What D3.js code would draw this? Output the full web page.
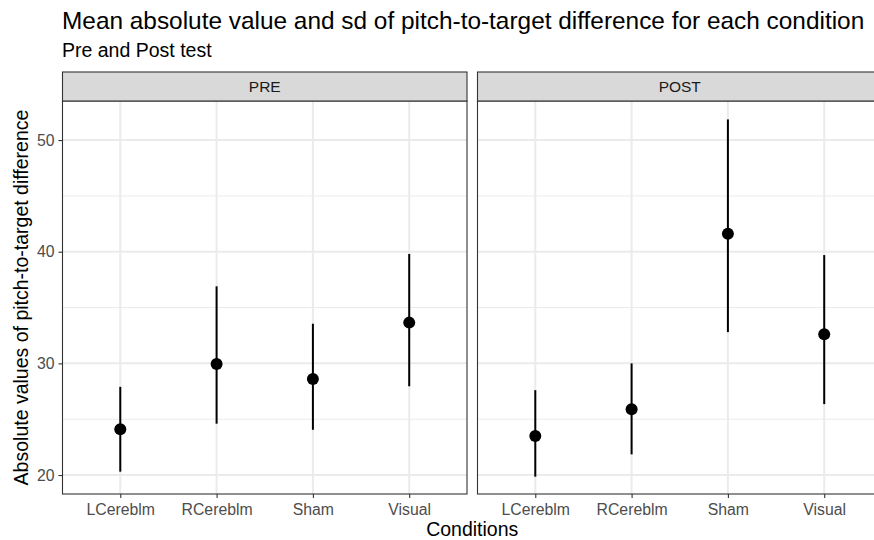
<!DOCTYPE html>
<html>
<head>
<meta charset="utf-8">
<script src="https://cdn.jsdelivr.net/npm/d3@7"></script>
<style>
  html, body { margin: 0; padding: 0; background: #ffffff; }
  svg { display: block; font-family: "Liberation Sans", Arial, Helvetica, sans-serif; }
</style>
</head>
<body>
<svg id="chart" width="874" height="540"></svg>
<script>
// Conditions on the x axis and test phases (facets)
const conditions = ["LCereblm", "RCereblm", "Sham", "Visual"];
const phases = ["PRE", "POST"];

// Mean absolute pitch-to-target difference, with lower / upper ends of the sd bars
const preMean  = [24.1, 29.95, 28.6, 33.65];
const preLow   = [20.3, 24.6, 24.05, 27.95];
const preHigh  = [27.9, 36.9, 33.55, 39.8];
const postMean = [23.5, 25.9, 41.6, 32.6];
const postLow  = [19.85, 21.85, 32.8, 26.35];
const postHigh = [27.6, 30.0, 51.85, 39.7];

const yTicks = [20, 30, 40, 50];
const yMinor = [25, 35, 45];

const seriesByPhase = {
  PRE:  conditions.map((c, i) => ({ cond: c, mean: preMean[i],  low: preLow[i],  high: preHigh[i] })),
  POST: conditions.map((c, i) => ({ cond: c, mean: postMean[i], low: postLow[i], high: postHigh[i] }))
};

const svg = d3.select("#chart");

// Layout
const panelTop = 101, panelBottom = 494;
const stripTop = 72;
const panelW = 404.5, gap = 10.5;
const panelLeft = [62.5, 62.5 + panelW + gap];

const y = d3.scaleLinear().domain([18.3, 53.5]).range([panelBottom, panelTop]);

// Title and subtitle
svg.append("text").attr("x", 62).attr("y", 29)
  .attr("font-size", 24.4).attr("fill", "#000").text("Mean absolute value and sd of pitch-to-target difference for each condition");
svg.append("text").attr("x", 62).attr("y", 57)
  .attr("font-size", 19.5).attr("fill", "#000").text("Pre and Post test");

phases.forEach((phase, pi) => {
  const x0 = panelLeft[pi], x1 = x0 + panelW;
  const x = d3.scalePoint().domain(conditions).range([x0, x1]).padding(0.6);
  const g = svg.append("g");

  // panel background
  g.append("rect").attr("x", x0).attr("y", panelTop).attr("width", panelW).attr("height", panelBottom - panelTop)
    .attr("fill", "#fff");

  // minor grid
  g.selectAll(".ymin").data(yMinor).join("line")
    .attr("x1", x0).attr("x2", x1).attr("y1", d => y(d)).attr("y2", d => y(d))
    .attr("stroke", "#ebebeb").attr("stroke-width", 1);
  // major grid
  g.selectAll(".ymaj").data(yTicks).join("line")
    .attr("x1", x0).attr("x2", x1).attr("y1", d => y(d)).attr("y2", d => y(d))
    .attr("stroke", "#ebebeb").attr("stroke-width", 2);
  g.selectAll(".xmaj").data(conditions).join("line")
    .attr("x1", d => x(d)).attr("x2", d => x(d)).attr("y1", panelTop).attr("y2", panelBottom)
    .attr("stroke", "#ebebeb").attr("stroke-width", 2);

  // sd bars and means
  const data = seriesByPhase[phase];
  g.selectAll(".bar").data(data).join("line")
    .attr("x1", d => x(d.cond)).attr("x2", d => x(d.cond))
    .attr("y1", d => y(d.low)).attr("y2", d => y(d.high))
    .attr("stroke", "#000").attr("stroke-width", 2);
  g.selectAll(".pt").data(data).join("circle")
    .attr("cx", d => x(d.cond)).attr("cy", d => y(d.mean)).attr("r", 6)
    .attr("fill", "#000");

  // panel border
  g.append("rect").attr("x", x0).attr("y", panelTop).attr("width", panelW).attr("height", panelBottom - panelTop)
    .attr("fill", "none").attr("stroke", "#333333").attr("stroke-width", 1.1);

  // strip
  g.append("rect").attr("x", x0).attr("y", stripTop).attr("width", panelW).attr("height", panelTop - stripTop)
    .attr("fill", "#d9d9d9").attr("stroke", "#333333").attr("stroke-width", 1.1);
  g.append("text").attr("x", (x0 + x1) / 2).attr("y", (stripTop + panelTop) / 2 + 5.5)
    .attr("text-anchor", "middle").attr("font-size", 15.5).attr("fill", "#1a1a1a").text(phase);

  // x axis
  const xAxis = g.append("g").attr("transform", `translate(0,${panelBottom})`)
    .call(d3.axisBottom(x).tickSize(4).tickPadding(6));
  xAxis.select(".domain").remove();
  xAxis.selectAll(".tick line").attr("stroke", "#333333").attr("stroke-width", 1.1);
  xAxis.selectAll(".tick text").attr("fill", "#4d4d4d").attr("font-size", 15.8)
    .attr("font-family", "Liberation Sans, Arial, sans-serif");

  // y axis on the first panel only
  if (pi === 0) {
    const yAxis = g.append("g").attr("transform", `translate(${x0},0)`)
      .call(d3.axisLeft(y).tickValues(yTicks).tickSize(4).tickPadding(4));
    yAxis.select(".domain").remove();
    yAxis.selectAll(".tick line").attr("stroke", "#333333").attr("stroke-width", 1.1);
    yAxis.selectAll(".tick text").attr("fill", "#4d4d4d").attr("font-size", 15.8)
      .attr("font-family", "Liberation Sans, Arial, sans-serif");
  }
});

// Axis titles
svg.append("text").attr("x", (panelLeft[0] + panelLeft[1] + panelW) / 2).attr("y", 536)
  .attr("text-anchor", "middle").attr("font-size", 19.5).attr("fill", "#000").text("Conditions");
svg.append("text").attr("transform", `translate(27.5,${(panelTop + panelBottom) / 2}) rotate(-90)`)
  .attr("text-anchor", "middle").attr("font-size", 19.5).attr("fill", "#000")
  .text("Absolute values of pitch-to-target difference");
</script>
</body>
</html>
